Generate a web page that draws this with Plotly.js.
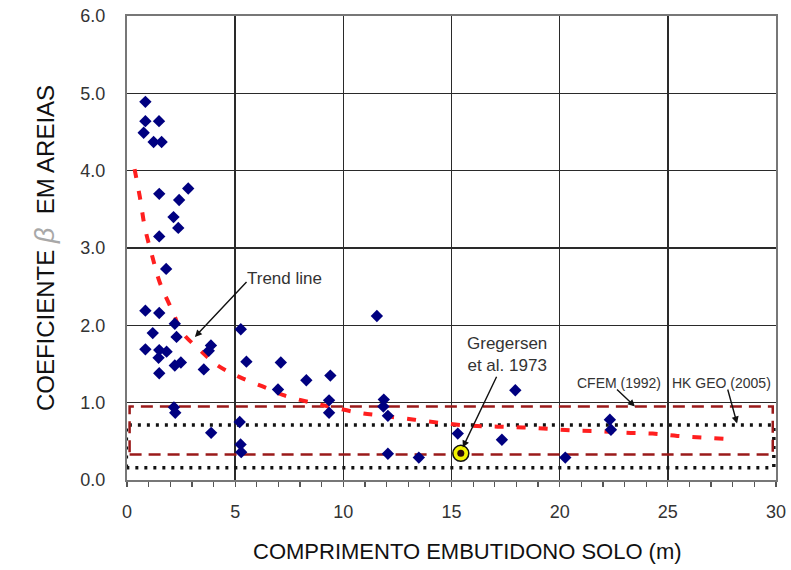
<!DOCTYPE html>
<html>
<head>
<meta charset="utf-8">
<script src="https://cdn.plot.ly/plotly-3.0.1.min.js"></script>
<style>html,body{margin:0;padding:0;background:#fff;}#chart{width:791px;height:570px;}</style>
</head>
<body>
<div id="chart"></div>
<script>
// Measured data points (embedment length m, beta coefficient)
const lengthM = [0.85,0.85,1.48,0.77,1.23,1.60,2.83,1.49,2.41,2.15,2.37,1.49,1.81,
  0.85,1.49,2.21,1.19,2.29,0.85,1.49,1.83,1.46,2.49,2.21,1.49,3.88,3.78,3.55,5.26,5.52,
  2.17,2.23,3.89,5.21,5.25,5.28,7.11,6.98,8.29,9.40,9.34,9.34,11.55,11.87,11.85,12.06,
  12.06,13.49,15.29,17.33,17.95,20.26,22.32,22.37];
const beta = [4.89,4.64,4.64,4.49,4.37,4.37,3.77,3.70,3.62,3.40,3.26,3.15,2.73,
  2.19,2.16,2.02,1.90,1.85,1.69,1.68,1.66,1.58,1.52,1.48,1.38,1.74,1.67,1.43,1.95,1.53,
  0.94,0.87,0.61,0.75,0.46,0.36,1.52,1.17,1.29,1.35,1.03,0.87,2.12,1.04,0.95,0.83,
  0.34,0.29,0.60,0.52,1.16,0.29,0.78,0.65];

// Gregersen et al. 1973 point
const gregX = [15.43];
const gregY = [0.345];

// Trend line
const trendX = [0.35,0.60,0.83,1.17,1.52,2.14,2.52,3.41,4.14,5.21,6.45,7.20,8.37,9.52,10.70,
  11.83,13.29,14.75,15.98,17.14,18.29,19.52,20.67,21.83,23.06,24.29,25.44,26.60,27.75,28.10];
const trendY = [4.02,3.65,3.26,2.89,2.55,2.16,1.92,1.67,1.49,1.33,1.19,1.10,1.01,0.94,0.87,
  0.83,0.78,0.73,0.70,0.69,0.68,0.66,0.64,0.63,0.61,0.60,0.57,0.55,0.53,0.52];

// Design ranges
const cfemX = [0.12, 29.85];   // CFEM (1992)
const cfemY = [0.33, 0.95];
const hkX = [-0.03, 29.9];     // HK GEO (2005)
const hkY = [0.16, 0.71];

const xTicks = [0,5,10,15,20,25,30];
const yTicks = [0,1,2,3,4,5,6];
const yTickText = ['0.0','1.0','2.0','3.0','4.0','5.0','6.0'];

function rect(xs, ys) {
  return {x:[xs[0],xs[1],xs[1],xs[0],xs[0]], y:[ys[0],ys[0],ys[1],ys[1],ys[0]]};
}
const cf = rect(cfemX, cfemY), hk = rect(hkX, hkY);

const FONT = 'Arial, "Liberation Sans", sans-serif';

const traces = [
  {x:hk.x, y:hk.y, mode:'lines', cliponaxis:false, hoverinfo:'skip',
   line:{color:'#111', width:3.5, dash:'3px,6px'}},
  {x:cf.x, y:cf.y, mode:'lines', cliponaxis:false, hoverinfo:'skip',
   line:{color:'#9a1a1a', width:2.5, dash:'12px,7px'}},
  {x:trendX, y:trendY, mode:'lines', line:{color:'#ff1f1f', width:4, dash:'9px,13px', shape:'spline'}},
  {x:lengthM, y:beta, mode:'markers', cliponaxis:false,
   marker:{symbol:'diamond', size:9.5, color:'#000080', line:{width:0}}},
  {x:gregX, y:gregY, mode:'markers', cliponaxis:false,
   marker:{symbol:'circle', size:16, color:'#f2f200', line:{color:'#111', width:1.5}}},
  {x:gregX, y:gregY, mode:'markers', cliponaxis:false,
   marker:{symbol:'circle', size:7, color:'#2a0a0a', line:{width:0}}}
];

const annFont = {family:FONT, size:17, color:'#333'};
const smallFont = {family:FONT, size:14, color:'#333'};
function arrow(x, y, ax, ay) {
  return {x:x, y:y, ax:ax, ay:ay, xref:'x', yref:'y', axref:'x', ayref:'y', text:'',
    showarrow:true, arrowhead:2, arrowsize:1, arrowwidth:1.4, arrowcolor:'#111', standoff:0, startstandoff:0};
}

const layout = {
  width:791, height:570,
  margin:{l:127, r:15, t:16, b:90},
  paper_bgcolor:'#ffffff', plot_bgcolor:'#ffffff',
  showlegend:false,
  font:{family:FONT, color:'#333'},
  xaxis:{
    range:[0,30], tickvals:xTicks, ticktext:xTicks.map(String),
    showgrid:true, gridcolor:'#2a2a2a', gridwidth:1.6,
    showline:true, linecolor:'#777', linewidth:2, mirror:true,
    ticks:'outside', ticklen:5, tickcolor:'#555', tickwidth:1.2,
    minor:{dtick:1, tick0:0, ticks:'outside', ticklen:5, tickcolor:'#555', tickwidth:1.2, showgrid:false},
    ticklabelstandoff:9,
    tickfont:{family:FONT, size:18, color:'#333'},
    zeroline:false
  },
  yaxis:{
    range:[0,6], tickvals:yTicks, ticktext:yTickText,
    showgrid:true, gridcolor:'#2a2a2a', gridwidth:1.6,
    showline:true, linecolor:'#777', linewidth:2, mirror:true,
    ticks:'', ticklabelstandoff:16,
    tickfont:{family:FONT, size:18, color:'#333'},
    zeroline:false,
    title:{text:'COEFICIENTE <span style="color:#a8a8a8;font-size:27px"><i>β</i></span>&nbsp; EM AREIAS',
      font:{family:FONT, size:24, color:'#111'}, standoff:19}
  },
  annotations:[
    {x:0.5254, y:-0.155, xref:'paper', yref:'paper', xanchor:'center', yanchor:'middle',
     text:'COMPRIMENTO EMBUTIDONO SOLO (m)', showarrow:false, font:{family:FONT, size:22, color:'#111'}},
    {x:7.3, y:2.61, xref:'x', yref:'y', text:'Trend line', showarrow:false, font:annFont},
    arrow(3.14, 1.85, 5.59, 2.58),
    {x:15.52, y:0.42, ax:17.57, ay:1.62, xref:'x', yref:'y', axref:'x', ayref:'y',
     text:'Gregersen<br>et al. 1973', showarrow:true, arrowhead:2, arrowsize:1, arrowwidth:1.4,
     arrowcolor:'#111', standoff:0, font:annFont, align:'center'},
    {x:22.75, y:1.25, xref:'x', yref:'y', text:'CFEM (1992)', showarrow:false, font:smallFont},
    arrow(23.48, 0.95, 22.58, 1.19),
    {x:27.5, y:1.25, xref:'x', yref:'y', text:'HK GEO (2005)', showarrow:false, font:smallFont},
    arrow(28.2, 0.73, 27.75, 1.19)
  ]
};

Plotly.newPlot('chart', traces, layout, {displayModeBar:false, staticPlot:true});
</script>
</body>
</html>
